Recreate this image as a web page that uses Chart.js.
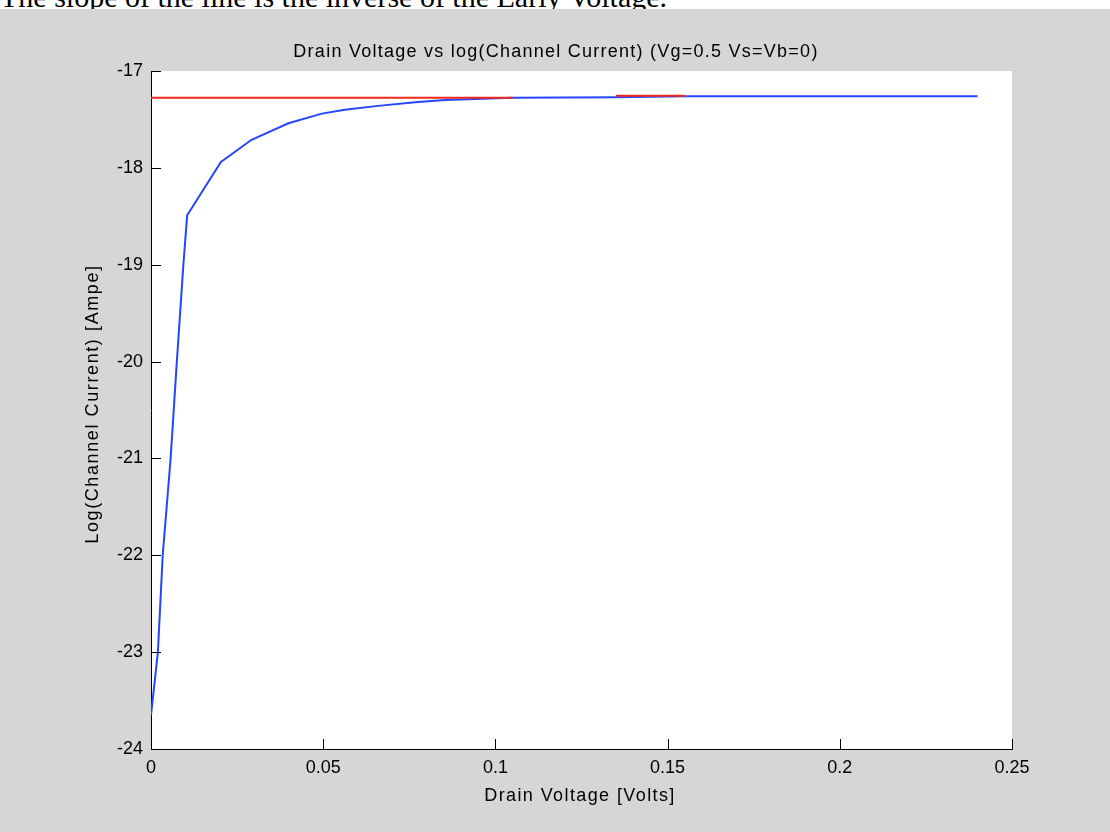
<!DOCTYPE html>
<html>
<head>
<meta charset="utf-8">
<script src="https://cdn.jsdelivr.net/npm/chart.js@4.4.1/dist/chart.umd.min.js"></script>
<style>
  html, body { margin: 0; padding: 0; background: #d6d6d6; overflow: hidden; }
  #wrap { position: relative; width: 1110px; height: 832px; }
  #c { position: absolute; left: 0; top: 0; }
  #strip { position: absolute; left: 0; top: 0; width: 1110px; height: 9px; background: #fff; overflow: hidden; z-index: 2; }
  #strip span { position: absolute; left: 0; bottom: -3px; font-family: "Liberation Serif", "Times New Roman", serif; font-size: 30px; line-height: 30px; white-space: nowrap; color: #000; }
</style>
</head>
<body>
<div id="wrap">
  <div id="strip"><span>The slope of the line is the inverse of the Early Voltage.</span></div>
  <canvas id="c" width="1110" height="832"></canvas>
</div>
<script>
// ---- data ----
const titleText = "Drain Voltage vs log(Channel Current) (Vg=0.5 Vs=Vb=0)";
const xTitle = "Drain Voltage [Volts]";
const yTitle = "Log(Channel Current) [Ampe]";

const xTickValues = [0, 0.05, 0.1, 0.15, 0.2, 0.25];
const xTickLabels = ["0", "0.05", "0.1", "0.15", "0.2", "0.25"];
const yTickValues = [-24, -23, -22, -21, -20, -19, -18, -17];
const yTickLabels = ["-24", "-23", "-22", "-21", "-20", "-19", "-18", "-17"];

// measured channel current curve (blue)
const drainV = [0, 0.002, 0.0034, 0.0057, 0.0075, 0.0094, 0.0105, 0.0203, 0.0292, 0.0399, 0.0496, 0.0563, 0.0659, 0.0775, 0.0854, 0.105, 0.135, 0.155, 0.24];
const logI   = [-23.65, -23.0, -22.0, -21.0, -20.0, -19.0, -18.49, -17.94, -17.71, -17.54, -17.44, -17.40, -17.36, -17.32, -17.30, -17.275, -17.27, -17.26, -17.26];

// fitted line segments (red)
const fit1V = [0, 0.105];
const fit1I = [-17.275, -17.275];
const fit2V = [0.135, 0.155];
const fit2I = [-17.255, -17.255];

const BLUE = '#2446ff';
const RED = '#f02a1a';
const FONT = '"Liberation Sans", Arial, Helvetica, sans-serif';

function pts(xs, ys) { return xs.map((x, i) => ({ x: x, y: ys[i] })); }

const bgPlugin = {
  id: 'bg',
  beforeDraw(chart) {
    const { ctx, chartArea: a } = chart;
    ctx.save();
    ctx.fillStyle = '#d6d6d6';
    ctx.fillRect(0, 0, chart.width, chart.height);
    ctx.fillStyle = '#ffffff';
    ctx.fillRect(a.left, a.top, a.right - a.left, a.bottom - a.top);
    ctx.restore();
  }
};

const tickPlugin = {
  id: 'inticks',
  afterDraw(chart) {
    const { ctx, chartArea: a, scales } = chart;
    ctx.save();
    ctx.strokeStyle = '#000';
    ctx.lineWidth = 1;
    ctx.beginPath();
    xTickValues.forEach(v => {
      const px = Math.round(scales.x.getPixelForValue(v)) + 0.5;
      ctx.moveTo(px, a.bottom);
      ctx.lineTo(px, a.bottom - 10);
    });
    yTickValues.forEach(v => {
      const py = Math.round(scales.y.getPixelForValue(v)) + 0.5;
      ctx.moveTo(a.left, py);
      ctx.lineTo(a.left + 10, py);
    });
    ctx.stroke();

    ctx.fillStyle = '#000';
    ctx.font = '18px ' + FONT;
    ctx.textAlign = 'center';
    ctx.textBaseline = 'alphabetic';
    ctx.letterSpacing = '1.25px';
    ctx.fillText(titleText, 556, 57);
    ctx.letterSpacing = '1.4px';
    ctx.fillText(xTitle, 580, 801);
    ctx.letterSpacing = '1.6px';
    ctx.translate(98, 404);
    ctx.rotate(-Math.PI / 2);
    ctx.fillText(yTitle, 0, 0);
    ctx.restore();
  }
};

new Chart(document.getElementById('c'), {
  type: 'scatter',
  data: {
    datasets: [
      { data: pts(drainV, logI), showLine: true, borderColor: BLUE, borderWidth: 2, pointRadius: 0, tension: 0, order: 1 },
      { data: pts(fit1V, fit1I), showLine: true, borderColor: RED, borderWidth: 2, pointRadius: 0, tension: 0, order: 0 },
      { data: pts(fit2V, fit2I), showLine: true, borderColor: RED, borderWidth: 2, pointRadius: 0, tension: 0, order: 0 }
    ]
  },
  options: {
    responsive: false,
    animation: false,
    layout: { padding: { top: 71, right: 98, left: 0, bottom: 0 } },
    plugins: { legend: { display: false }, tooltip: { enabled: false }, title: { display: false } },
    scales: {
      x: {
        type: 'linear', min: 0, max: 0.25,
        afterBuildTicks: s => { s.ticks = xTickValues.map(v => ({ value: v })); },
        afterFit: s => { s.height = 83; },
        ticks: { callback: (v, i) => xTickLabels[i], color: '#000', font: { family: FONT, size: 18 }, padding: 8, maxRotation: 0, autoSkip: false },
        grid: { drawOnChartArea: false, drawTicks: false },
        border: { display: true, color: '#000', width: 1 }
      },
      y: {
        type: 'linear', min: -24, max: -17,
        afterBuildTicks: s => { s.ticks = yTickValues.map(v => ({ value: v })); },
        afterFit: s => { s.width = 151; },
        ticks: { callback: (v, i) => yTickLabels[i], color: '#000', font: { family: FONT, size: 18 }, padding: 8, autoSkip: false },
        grid: { drawOnChartArea: false, drawTicks: false },
        border: { display: true, color: '#000', width: 1 }
      }
    }
  },
  plugins: [bgPlugin, tickPlugin]
});
</script>
</body>
</html>
